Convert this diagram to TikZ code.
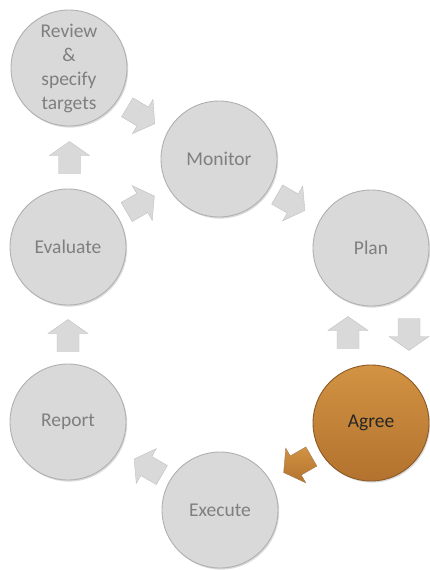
\documentclass[tikz,border=0pt]{standalone}
\usepackage{fontspec}
\setmainfont{Carlito}
\usetikzlibrary{shadows,calc}
\definecolor{discfill}{HTML}{D9D9D9}
\definecolor{discline}{HTML}{B0B0B0}
\definecolor{disctext}{HTML}{7F7F7F}
\definecolor{ambertop}{HTML}{D29343}
\definecolor{amberbot}{HTML}{B3722E}
\definecolor{amberline}{HTML}{8A5A26}
\definecolor{darktext}{HTML}{262626}
\tikzset{
  softshadow/.style={drop shadow={opacity=0.28, shadow xshift=1.2pt, shadow yshift=-1.6pt}},
  stage/.style={circle, minimum size=116pt, inner sep=0pt, fill=discfill, draw=discline,
    line width=0.9pt, text=disctext, align=center, softshadow,
    font=\fontsize{19.5}{24}\selectfont},
  current/.style={stage, fill=none, top color=ambertop, bottom color=amberbot,
    draw=amberline, text=darktext},
  arrowgray/.style={fill=discfill, draw=discline!80, line width=0.4pt, softshadow},
  arroworange/.style={top color=ambertop, bottom color=amberbot, draw=amberline!80,
    line width=0.4pt, softshadow},
  blockarrow/.pic={
    \path[pic actions] (-16,-11) -- (2,-11) -- (2,-20) -- (16,0) -- (2,20) -- (2,11)
      -- (-16,11) -- cycle;
  },
}
\begin{document}
\begin{tikzpicture}[x=1pt, y=-1pt]
  \useasboundingbox (0,0) rectangle (429,570);
  \fill[white] (0,0) rectangle (429,570);

  % stages of the cycle
  \node[stage]   (review)   at (69,68)   {Review\\\&\\specify\\targets};
  \node[stage]   (monitor)  at (219,159) {Monitor};
  \node[stage]   (plan)     at (371,248) {Plan};
  \node[current] (agree)    at (371,423) {Agree};
  \node[stage]   (execute)  at (220,510) {Execute};
  \node[stage]   (report)   at (68,422)  {Report};
  \node[stage]   (evaluate) at (68,247)  {Evaluate};

  % block arrows between the stages
  \pic[arrowgray, rotate=-31] (revmon) at ($(review)!0.5!(monitor)+(-3,2)$) {blockarrow};
  \pic[arrowgray, rotate=30]  (evamon) at ($(evaluate)!0.5!(monitor)+(-3,1)$) {blockarrow};
  \pic[arrowgray, rotate=-30] (monpla) at ($(monitor)!0.5!(plan)+(-4,-1)$) {blockarrow};
  \pic[arrowgray, rotate=90]  (agrpla) at ($(plan)!0.5!(agree)+(-23,-3)$) {blockarrow};
  \pic[arrowgray, rotate=-90] (plaagr) at ($(plan)!0.5!(agree)+(38,-1)$) {blockarrow};
  \pic[arroworange, rotate=210] (agrexe) at ($(agree)!0.5!(execute)+(2,-2)$) {blockarrow};
  \pic[arrowgray, rotate=150] (exerep) at ($(execute)!0.5!(report)+(4,1)$) {blockarrow};
  \pic[arrowgray, rotate=90]  (repeva) at ($(report)!0.5!(evaluate)+(0,1)$) {blockarrow};
  \pic[arrowgray, rotate=90]  (evarev) at ($(evaluate)!0.5!(review)+(1,0)$) {blockarrow};
\end{tikzpicture}
\end{document}
